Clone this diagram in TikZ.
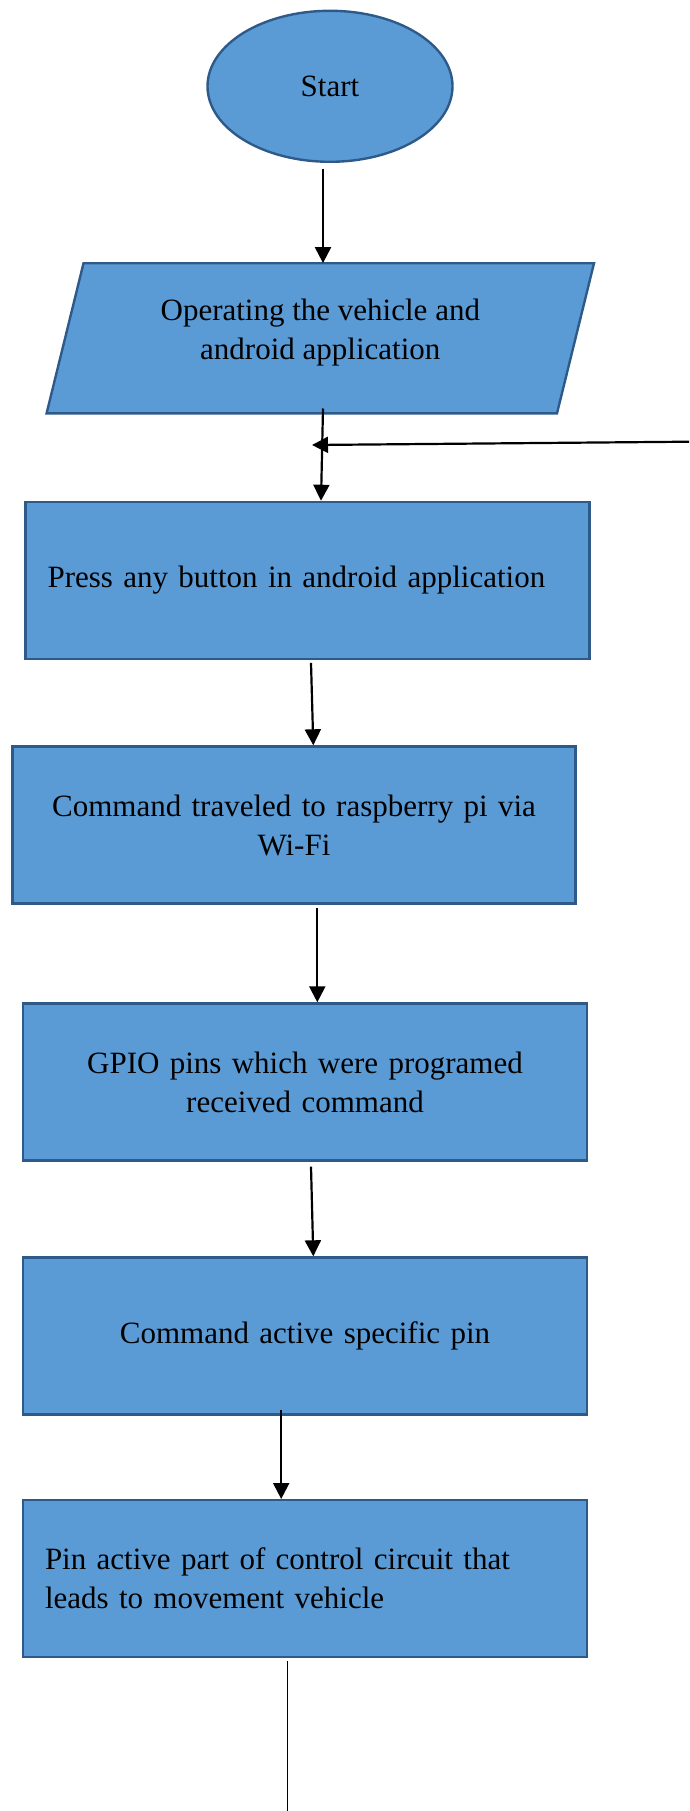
\documentclass[tikz,border=0pt]{standalone}
\usepackage{fontspec}
\setmainfont{Liberation Serif}
\usetikzlibrary{arrows.meta,shapes.geometric}
\definecolor{boxfill}{HTML}{5B9BD5}
\definecolor{boxline}{HTML}{2E5A89}
\tikzset{
  flowtext/.style={inner sep=0pt, font=\fontsize{31}{39}\selectfont, text=black},
  flow/.style={flowtext, fill=boxfill, draw=boxline, line width=2.4pt},
  procbox/.style={flow, rectangle, minimum height=157pt, inner xsep=22pt},
  arr/.style={line width=2.2pt, -{Triangle[length=16pt,width=16pt]}},
  plain/.style={line width=1pt}
}
\begin{document}
\begin{tikzpicture}[x=1pt,y=-1pt]
\useasboundingbox (0,0) rectangle (689,1811);

% start terminal
\node[flow, ellipse, minimum width=245pt, minimum height=151pt] (start) at (330,86.3) {Start};

% input / output step: slanted outline, text placed a little above centre
\draw[fill=boxfill, draw=boxline, line width=2.4pt, line join=miter]
  (83.5,263.3) -- (594,263.3) -- (557,413.3) -- (46.6,413.3) -- cycle;
\node[flowtext, rectangle, minimum width=547pt, minimum height=150pt,
      align=center] (io) at (320.3,332.3)
  {Operating the vehicle and\\android application};

% process steps
\node[procbox, text width=520pt, align=left] (press) at (307.6,580.4)
  {Press any button in android application};
\node[procbox, text width=519pt, align=center] (cmd) at (294,825)
  {Command traveled to raspberry pi via\\Wi-Fi};
\node[procbox, text width=520pt, align=center] (gpio) at (305,1082)
  {GPIO pins which were programed\\received command};
\node[procbox, text width=520pt, align=center] (act) at (305,1336)
  {Command active specific pin};
\node[procbox, text width=520pt, align=left] (pin) at (305,1578.7)
  {Pin active part of control circuit that\\leads to movement vehicle};

% loose ends
\coordinate (fbstart) at (689,441.7);
\coordinate (fbend) at (312,445);
\coordinate (tail) at (287.8,1811);

% connectors
\draw[arr] ([xshift=-7pt,yshift=-5.7pt]start.south) -- ([xshift=2.7pt,yshift=-6pt]io.north);
\draw[arr] ([xshift=2.7pt,yshift=-1pt]io.south) -- ([xshift=13.4pt]press.north);
\draw[arr] ([xshift=3.4pt,yshift=-2.7pt]press.south) -- ([xshift=19.3pt]cmd.north);
\draw[arr] ([xshift=23.3pt,yshift=-3.4pt]cmd.south) -- ([xshift=12.3pt]gpio.north);
\draw[arr] ([xshift=6pt,yshift=-5pt]gpio.south) -- ([xshift=8.3pt]act.north);
\draw[arr] ([xshift=-23.8pt,yshift=6pt]act.south) -- ([xshift=-23.8pt]pin.north);
\draw[plain] ([xshift=-17.2pt,yshift=-2.7pt]pin.south) -- (tail);
\draw[arr] (fbstart) -- (fbend);
\end{tikzpicture}
\end{document}
